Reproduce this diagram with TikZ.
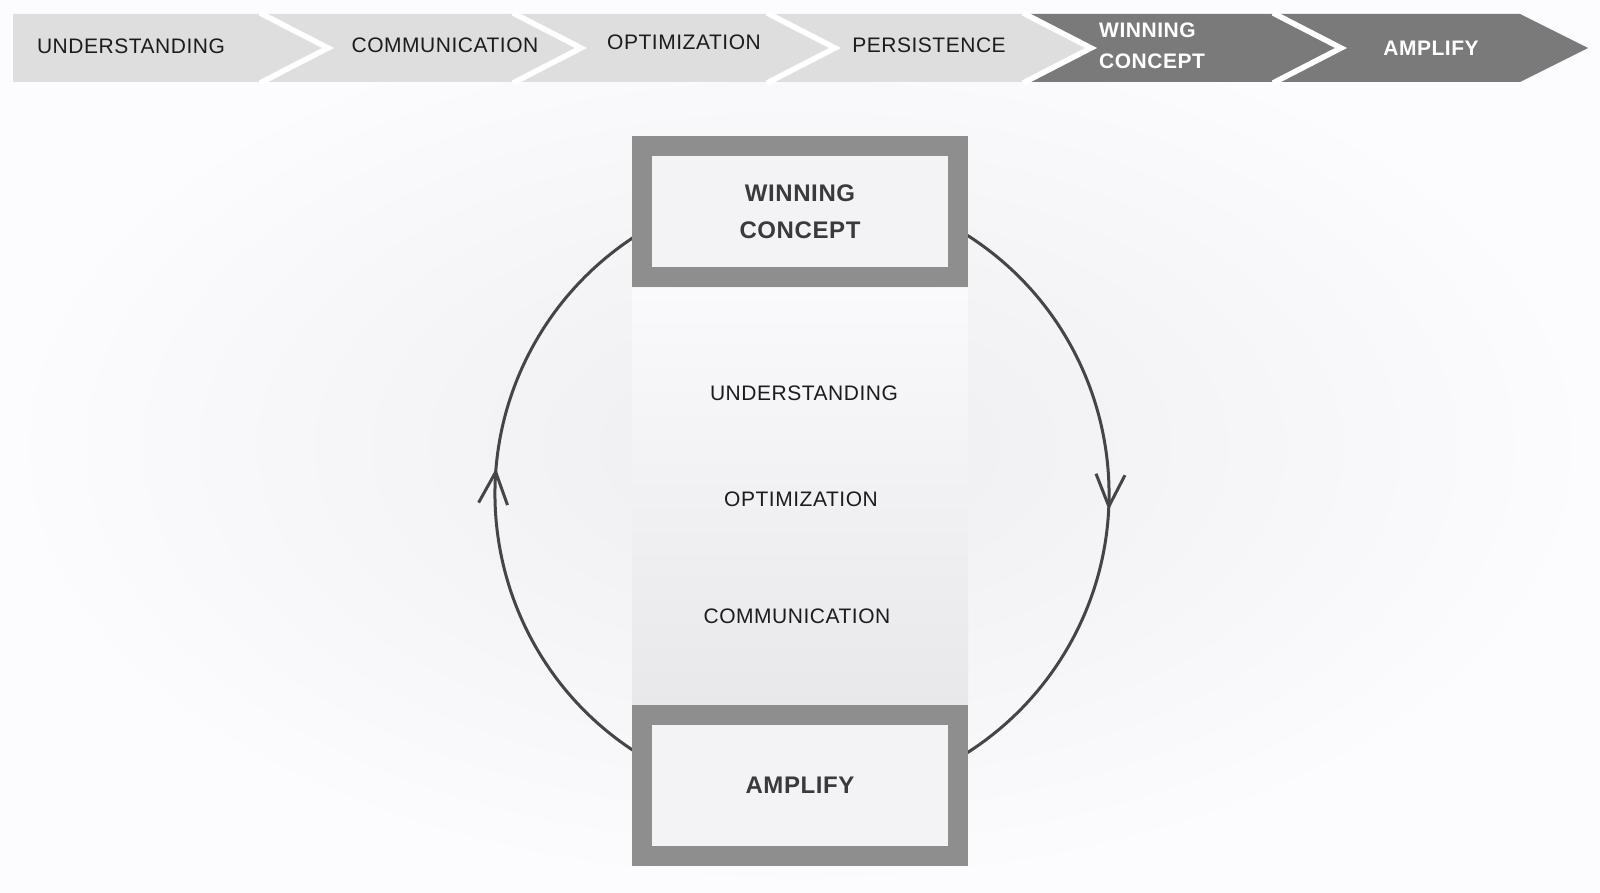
\documentclass[tikz,border=0pt]{standalone}
\usepackage{fontspec}
\setmainfont{Liberation Sans}[LetterSpace=2.5]
\usepackage{tikz}
\usetikzlibrary{arrows.meta,decorations.markings}

\definecolor{bgin}{HTML}{EEEDF0}
\definecolor{bgout}{HTML}{FCFBFD}
\definecolor{chevlight}{HTML}{DEDEDE}
\definecolor{chevdark}{HTML}{7A7A7A}
\definecolor{frame}{HTML}{8E8E8E}
\definecolor{boxfill}{HTML}{F3F2F4}
\definecolor{coltop}{HTML}{FAF9FB}
\definecolor{colbot}{HTML}{E8E7EA}
\definecolor{ink}{HTML}{1C1C1C}
\definecolor{boxink}{HTML}{3A393D}
\definecolor{ring}{HTML}{454547}

\begin{document}
\begin{tikzpicture}[x=1pt,y=-1pt,
      every node/.style={inner sep=0pt},
      steplabel/.style={font=\fontsize{21}{30.6}\selectfont,text=ink},
      boldlabel/.style={font=\fontsize{21}{30.6}\selectfont\bfseries,text=white,align=left},
      stagebox/.style={draw=frame,line width=20pt,fill=boxfill,minimum width=316pt,
        font=\fontsize{24}{37}\selectfont\bfseries,text=boxink,align=center},
      midlabel/.style={font=\fontsize{21}{25}\selectfont,text=ink},
      gap/.style={draw=white,line width=5.5pt},
      ringarc/.style={draw=ring,line width=3pt,postaction={decorate}},
      ringmark/.style={decoration={markings,mark=at position #1 with
        {\arrow{Straight Barb[length=32pt,width=29pt]}}}}]
    \useasboundingbox (0,0) rectangle (1600,893);
    \shade[inner color=bgin,outer color=bgout] (0,0) rectangle (1600,893);

    % banner
    \foreach \a/\n/\b/\c in {13/0/260/chevlight,260/68/513/chevlight,513/68/767/chevlight,
        767/68/1023/chevlight,1023/68/1273/chevdark,1273/68/1520/chevdark}
      \fill[\c] (\a,14) -- (\b,14) -- (\b+68,48) -- (\b,82) -- (\a,82) -- (\a+\n,48) -- cycle;
    \foreach \b in {260,513,767,1023,1273}
      \draw[gap] (\b,13) -- (\b+68,48) -- (\b,83);

    \node[steplabel] (s1) at (131,46) {UNDERSTANDING};
    \node[steplabel] (s2) at (445,45) {COMMUNICATION};
    \node[steplabel] (s3) at (684,42) {OPTIMIZATION};
    \node[steplabel] (s4) at (929,45) {PERSISTENCE};
    \node[boldlabel,anchor=west] (s5) at (1099,46) {WINNING\\CONCEPT};
    \node[boldlabel] (s6) at (1431,48) {AMPLIFY};

    % cycle
    \coordinate (hub) at (802,494);
    \draw[ringarc,ringmark=0.54] ([shift={(240:307pt)}]hub) arc[start angle=240,end angle=120,radius=307pt];
    \draw[ringarc,ringmark=0.525] ([shift={(60:307pt)}]hub) arc[start angle=60,end angle=-60,radius=307pt];

    \shade[top color=coltop,bottom color=colbot] (632,288) rectangle (968,705);
    \node[midlabel] (m1) at (804,393) {UNDERSTANDING};
    \node[midlabel] (m2) at (801,499) {OPTIMIZATION};
    \node[midlabel] (m3) at (797,616) {COMMUNICATION};

    \node[stagebox,minimum height=131pt] (win) at (800,211.5) {WINNING\\CONCEPT};
    \node[stagebox,minimum height=141pt] (amp) at (800,785.5) {AMPLIFY};
\end{tikzpicture}
\end{document}
